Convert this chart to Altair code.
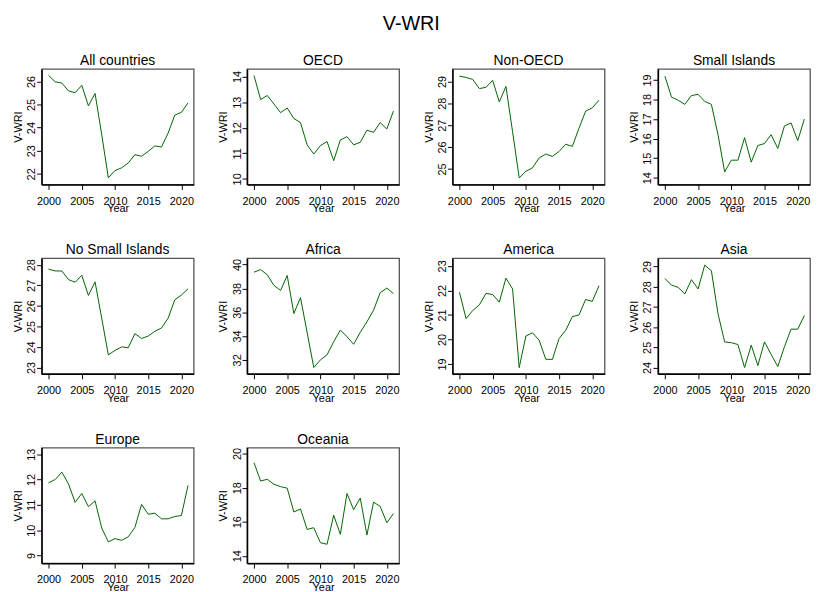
import altair as alt
import pandas as pd

FONT = "Liberation Sans"

years = list(range(2000, 2022))

panel_names = ["All countries", "OECD", "Non-OECD", "Small Islands",
               "No Small Islands", "Africa", "America", "Asia",
               "Europe", "Oceania"]

all_countries = [26.26, 25.98, 25.93, 25.59, 25.51, 25.83, 24.94, 25.48, 23.7, 21.83, 22.14,
                 22.26, 22.47, 22.83, 22.76, 22.97, 23.21, 23.16, 23.76, 24.54, 24.66, 25.07]
oecd = [14.04, 13.1, 13.26, 12.93, 12.59, 12.77, 12.36, 12.2, 11.33, 10.97, 11.3,
        11.46, 10.71, 11.52, 11.65, 11.33, 11.43, 11.9, 11.82, 12.2, 11.95, 12.65]
non_oecd = [29.24, 29.18, 29.09, 28.67, 28.73, 29.05, 28.06, 28.77, 26.7, 24.59, 24.89,
            25.05, 25.5, 25.68, 25.57, 25.8, 26.13, 26.03, 26.86, 27.64, 27.79, 28.14]
small_islands = [19.19, 18.12, 17.96, 17.75, 18.2, 18.26, 17.9, 17.75, 16.2, 14.3, 14.9,
                 14.9, 16.05, 14.8, 15.65, 15.75, 16.2, 15.5, 16.65, 16.8, 15.9, 17.0]
no_small_islands = [27.79, 27.7, 27.7, 27.28, 27.15, 27.49, 26.51, 27.17, 25.4, 23.61, 23.83,
                    24.0, 23.96, 24.65, 24.41, 24.53, 24.76, 24.92, 25.4, 26.29, 26.53, 26.83]
africa = [39.36, 39.58, 39.14, 38.25, 37.83, 39.08, 35.89, 37.22, 34.3, 31.36, 32.0,
          32.42, 33.53, 34.5, 33.94, 33.31, 34.31, 35.19, 36.17, 37.64, 38.03, 37.56]
america = [21.92, 20.85, 21.18, 21.41, 21.88, 21.83, 21.52, 22.5, 22.06, 18.85, 20.14,
           20.27, 19.97, 19.19, 19.19, 20.04, 20.37, 20.93, 21.0, 21.63, 21.55, 22.19]
asia = [28.41, 28.08, 27.97, 27.64, 28.35, 27.89, 29.07, 28.79, 26.66, 25.27, 25.23,
        25.14, 24.0, 25.11, 24.1, 25.27, 24.65, 24.05, 25.03, 25.9, 25.9, 26.58]
europe = [11.87, 12.0, 12.29, 11.83, 11.1, 11.45, 10.93, 11.16, 10.09, 9.54, 9.67,
          9.6, 9.74, 10.11, 11.02, 10.63, 10.67, 10.45, 10.45, 10.54, 10.58, 11.77]
oceania = [19.46, 18.39, 18.49, 18.2, 18.06, 17.97, 16.57, 16.75, 15.55, 15.65, 14.77,
           14.68, 16.38, 15.26, 17.66, 16.71, 17.39, 15.22, 17.15, 16.9, 15.94, 16.48]

series = [all_countries, oecd, non_oecd, small_islands, no_small_islands,
          africa, america, asia, europe, oceania]

y_limits = [[21.54, 26.54], [9.78, 14.3], [24.29, 29.57], [13.66, 19.56],
            [22.69, 28.32], [30.83, 40.53], [18.6, 23.31], [23.69, 29.41],
            [8.7, 13.26], [13.57, 20.35]]

y_ticks = [[22, 23, 24, 25, 26], [10, 11, 12, 13, 14], [25, 26, 27, 28, 29],
           [14, 15, 16, 17, 18, 19], [23, 24, 25, 26, 27, 28], [32, 34, 36, 38, 40],
           [19, 20, 21, 22, 23], [24, 25, 26, 27, 28, 29], [9, 10, 11, 12, 13],
           [14, 16, 18, 20]]

x_ticks = [2000, 2005, 2010, 2015, 2020]
x_limits = [1998.95, 2021.85]

charts = []
for name, vals, lim, ticks in zip(panel_names, series, y_limits, y_ticks):
    df = pd.DataFrame({"Year": years, "V-WRI": vals})
    c = alt.Chart(
        df,
        title=alt.TitleParams(name, fontSize=14, fontWeight="normal", font=FONT,
                              color="black", anchor="middle", frame="group",
                              baseline="alphabetic", offset=-10),
    ).mark_line(color="#006400", strokeWidth=1).encode(
        x=alt.X("Year:Q",
                scale=alt.Scale(domain=x_limits, nice=False, zero=False),
                axis=alt.Axis(values=x_ticks, format="d", title="Year",
                              tickSize=5, labelPadding=6,
                              titleBaseline="alphabetic", titleY=27.6)),
        y=alt.Y("V-WRI:Q",
                scale=alt.Scale(domain=lim, nice=False, zero=False),
                axis=alt.Axis(values=ticks, title="V-WRI", format="d",
                              labelAngle=270, labelAlign="center",
                              labelBaseline="alphabetic", labelPadding=2,
                              tickSize=5, titleAngle=270,
                              titleBaseline="alphabetic", titleX=-20.3)),
    ).properties(width=154, height=117)
    charts.append(c)

chart = alt.concat(
    *charts, columns=4, spacing={"row": 74.7, "column": 54}, bounds="flush",
    title=alt.TitleParams("V-WRI", fontSize=20, fontWeight="normal", font=FONT,
                          color="black", anchor="middle", baseline="alphabetic",
                          offset=4),
).properties(
    padding={"left": 4, "top": 2, "right": 0, "bottom": 0}
).configure_axis(
    labelFont=FONT, titleFont=FONT, labelFontSize=11, titleFontSize=11,
    titleFontWeight="normal", labelColor="black", titleColor="black",
    domainColor="black", domainWidth=1.5, tickColor="black", tickWidth=1,
    grid=False, labelOverlap=False, labelFlush=False
).configure_view(
    stroke="#555555", strokeWidth=1.3
)

chart.save("out.html", embed_options={"renderer": "svg", "actions": False})
